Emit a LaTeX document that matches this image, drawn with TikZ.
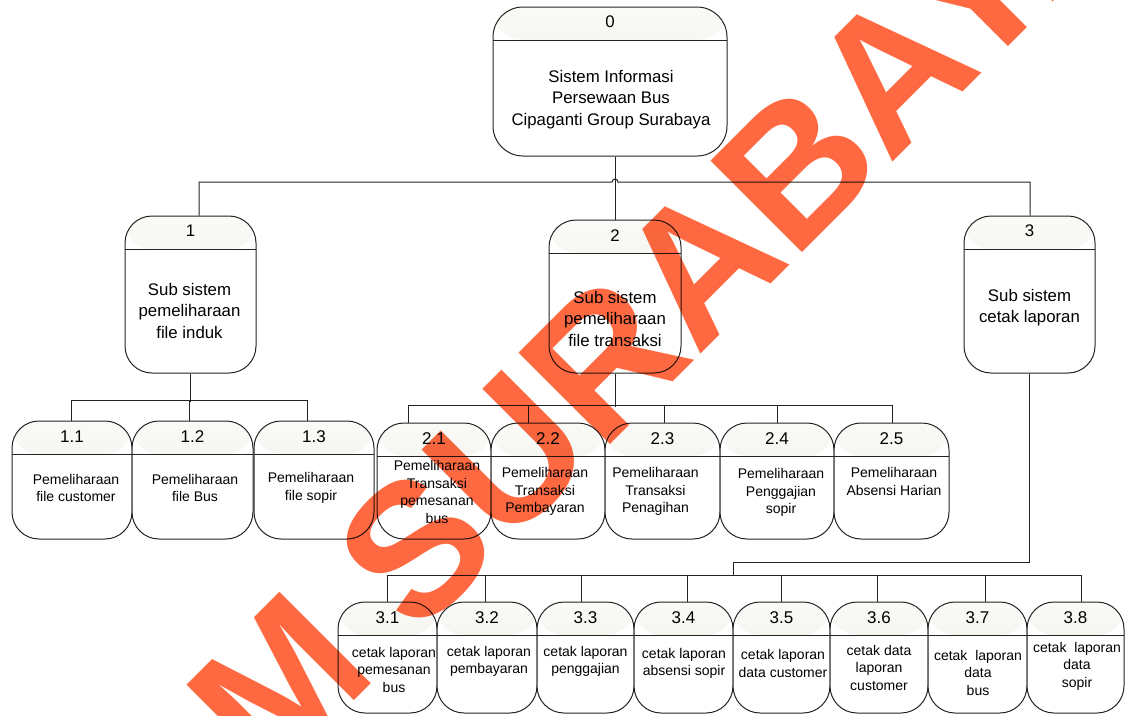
\documentclass[tikz,border=0pt]{standalone}
\usepackage{fontspec}
\setmainfont{Liberation Sans}
\usetikzlibrary{calc}

\definecolor{edge}{RGB}{35,35,35}
\definecolor{hdtop}{RGB}{250,250,247}
\definecolor{hdbot}{RGB}{234,234,226}
\definecolor{wm}{RGB}{255,105,65}

\tikzset{
  proc/.style={draw=edge, line width=1pt, rounded corners=#1, inner sep=0pt, fill=white,
    path picture={
      \shade[top color=hdtop, bottom color=hdbot]
        (path picture bounding box.north west) rectangle ([yshift=-33pt]path picture bounding box.north east);
      \draw[edge, line width=1pt]
        ([yshift=-33pt]path picture bounding box.north west) -- ([yshift=-33pt]path picture bounding box.north east);
    }},
  proc/.default=27pt,
  conn/.style={draw=edge, line width=1pt},
  numbig/.style={inner sep=0pt, font=\fontsize{16.8}{20}\selectfont},
  numsmall/.style={inner sep=0pt, font=\fontsize{17}{20}\selectfont},
  bodybig/.style={inner sep=0pt, align=center, font=\fontsize{16.8}{21.5}\selectfont},
  bodysmall/.style={inner sep=0pt, align=center, font=\fontsize{14}{17.5}\selectfont},
}

\begin{document}
\begin{tikzpicture}[x=1pt, y=-1pt]
\useasboundingbox (0,0) rectangle (1127,715);
\fill[white] (0,0) rectangle (1127,715);

% ---------- top level ----------
\node[proc=30pt, minimum width=234pt, minimum height=149pt] (n0) at (610,81.5) {};
\node[numbig] (n0-num) at ($(n0.north)+(0,15)$) {0};
\node[bodybig] (n0-txt) at ($(n0.north)+(1,93)$) {Sistem Informasi\\Persewaan Bus\\Cipaganti Group Surabaya};

% ---------- second level ----------
\node[proc, minimum width=131pt, minimum height=157pt] (n1) at (190.5,294.5) {};
\node[numbig] (n1-num) at ($(n1.north)+(0,15)$) {1};
\node[bodybig] (n1-txt) at ($(n1.north)+(-1,95)$) {Sub sistem\\pemeliharaan\\file induk};

\node[proc, minimum width=132pt, minimum height=153pt] (n2) at (615,296.5) {};
\node[numbig] (n2-num) at ($(n2.north)+(0,16)$) {2};
\node[bodybig] (n2-txt) at ($(n2.north)+(0,99)$) {Sub sistem\\pemeliharaan\\file transaksi};

\node[proc, minimum width=131pt, minimum height=157pt] (n3) at (1029.5,294.5) {};
\node[numbig] (n3-num) at ($(n3.north)+(0,15)$) {3};
\node[bodybig] (n3-txt) at ($(n3.north)+(0,92)$) {Sub sistem\\cetak laporan};

% ---------- processes of subsystem 1 ----------
\node[proc, minimum width=120pt, minimum height=118pt] (n11) at (72,480) {};
\node[numsmall] (n11-num) at ($(n11.north)+(0,16)$) {1.1};
\node[bodysmall] (n11-txt) at ($(n11.north)+(4,67.5)$) {Pemeliharaan\\file customer};

\node[proc, minimum width=121pt, minimum height=118pt] (n12) at (192.5,480) {};
\node[numsmall] (n12-num) at ($(n12.north)+(0,16)$) {1.2};
\node[bodysmall] (n12-txt) at ($(n12.north)+(2.5,67.5)$) {Pemeliharaan\\file Bus};

\node[proc, minimum width=120pt, minimum height=118pt] (n13) at (314,480) {};
\node[numsmall] (n13-num) at ($(n13.north)+(0,16)$) {1.3};
\node[bodysmall] (n13-txt) at ($(n13.north)+(-3,67.5)$) {Pemeliharaan\\file sopir};

% ---------- processes of subsystem 2 ----------
\node[proc, minimum width=114pt, minimum height=116pt] (n21) at (434,481) {};
\node[numsmall] (n21-num) at ($(n21.north)+(0,16)$) {2.1};
\node[bodysmall] (n21-txt) at ($(n21.north)+(3,69.5)$) {Pemeliharaan\\Transaksi\\pemesanan\\bus};

\node[proc, minimum width=114pt, minimum height=116pt] (n22) at (548,481) {};
\node[numsmall] (n22-num) at ($(n22.north)+(0,16)$) {2.2};
\node[bodysmall] (n22-txt) at ($(n22.north)+(-3,69)$) {Pemeliharaan\\Transaksi\\Pembayaran};

\node[proc, minimum width=115pt, minimum height=116pt] (n23) at (662.5,481) {};
\node[numsmall] (n23-num) at ($(n23.north)+(0,16)$) {2.3};
\node[bodysmall] (n23-txt) at ($(n23.north)+(-7,69)$) {Pemeliharaan\\Transaksi\\Penagihan};

\node[proc, minimum width=114pt, minimum height=116pt] (n24) at (777,481) {};
\node[numsmall] (n24-num) at ($(n24.north)+(0,16)$) {2.4};
\node[bodysmall] (n24-txt) at ($(n24.north)+(4,70)$) {Pemeliharaan\\Penggajian\\sopir};

\node[proc, minimum width=115pt, minimum height=116pt] (n25) at (891.5,481) {};
\node[numsmall] (n25-num) at ($(n25.north)+(0,16)$) {2.5};
\node[bodysmall] (n25-txt) at ($(n25.north)+(2.5,59)$) {Pemeliharaan\\Absensi Harian};

% ---------- processes of subsystem 3 ----------
\node[proc, minimum width=99pt, minimum height=111pt] (n31) at (387.5,657.5) {};
\node[numsmall] (n31-num) at ($(n31.north)+(0,16)$) {3.1};
\node[bodysmall] (n31-txt) at ($(n31.north)+(6.5,68)$) {cetak laporan\\pemesanan\\bus};

\node[proc, minimum width=100pt, minimum height=111pt] (n32) at (487,657.5) {};
\node[numsmall] (n32-num) at ($(n32.north)+(0,16)$) {3.2};
\node[bodysmall] (n32-txt) at ($(n32.north)+(2,60)$) {cetak laporan\\pembayaran};

\node[proc, minimum width=97pt, minimum height=111pt] (n33) at (585.5,657.5) {};
\node[numsmall] (n33-num) at ($(n33.north)+(0,16)$) {3.3};
\node[bodysmall] (n33-txt) at ($(n33.north)+(0,60)$) {cetak laporan\\penggajian};

\node[proc, minimum width=99pt, minimum height=111pt] (n34) at (683.5,657.5) {};
\node[numsmall] (n34-num) at ($(n34.north)+(0,16)$) {3.4};
\node[bodysmall] (n34-txt) at ($(n34.north)+(0.5,62)$) {cetak laporan\\absensi sopir};

\node[proc, minimum width=97pt, minimum height=111pt] (n35) at (781.5,657.5) {};
\node[numsmall] (n35-num) at ($(n35.north)+(0,16)$) {3.5};
\node[bodysmall] (n35-txt) at ($(n35.north)+(1.5,62)$) {cetak laporan\\data customer};

\node[proc, minimum width=98pt, minimum height=111pt] (n36) at (879,657.5) {};
\node[numsmall] (n36-num) at ($(n36.north)+(0,16)$) {3.6};
\node[bodysmall] (n36-txt) at ($(n36.north)+(0,66)$) {cetak data\\laporan\\customer};

\node[proc, minimum width=99pt, minimum height=111pt] (n37) at (977.5,657.5) {};
\node[numsmall] (n37-num) at ($(n37.north)+(0,16)$) {3.7};
\node[bodysmall] (n37-txt) at ($(n37.north)+(0.5,71)$) {cetak\ \ laporan\\data\\bus};

\node[proc, minimum width=97pt, minimum height=111pt] (n38) at (1075.5,657.5) {};
\node[numsmall] (n38-num) at ($(n38.north)+(0,16)$) {3.8};
\node[bodysmall] (n38-txt) at ($(n38.north)+(1.5,64.5)$) {cetak\ \ laporan\\data\\sopir};

% ---------- connectors ----------
\coordinate (busL) at (199,182);
\coordinate (busR) at (1030,182);
\draw[conn] (busL |- n1.north) -- (busL) -- (612,182)
  arc[start angle=180, end angle=0, radius=3pt] -- (busR) -- (busR |- n3.north);
\draw[conn] (n2.north |- n0.south) -- (n2.north);

% subsystem 1
\draw[conn] (n1.south) -- ++(0,28);
\draw[conn] ([xshift=-1pt]n11.north) -- ++(0,-20) -| ([xshift=-7pt]n13.north);
\draw[conn] ([xshift=-3pt]n12.north) -- ++(0,-20);

% subsystem 2
\draw[conn] (n2.south) -- ++(0,33);
\draw[conn] ([xshift=-26pt]n21.north) -- ++(0,-17) -| ([xshift=0.5pt]n25.north);
\draw[conn] ([xshift=-20pt]n22.north) -- ++(0,-17);
\draw[conn] ([xshift=1.5pt]n23.north) -- ++(0,-17);
\draw[conn] (n24.north) -- ++(0,-17);

% subsystem 3
\coordinate (j3) at (733,576);
\coordinate (j3up) at (733,562);
\draw[conn] (n3.south) |- (j3up) -- (j3);
\draw[conn] (n31.north) -- ++(0,-26) -| ([xshift=5.5pt]n38.north);
\draw[conn] ([xshift=-2pt]n32.north) -- ++(0,-26);
\draw[conn] ([xshift=-4.5pt]n33.north) -- ++(0,-26);
\draw[conn] ([xshift=3.5pt]n34.north) -- ++(0,-26);
\draw[conn] (n35.north) -- ++(0,-26);
\draw[conn] ([xshift=-2pt]n36.north) -- ++(0,-26);
\draw[conn] ([xshift=7.5pt]n37.north) -- ++(0,-26);

% ---------- watermark ----------
\begin{scope}[blend mode=multiply]
  \clip (0,0) rectangle (1127,715);
  \node[anchor=base west, inner sep=0pt, rotate=45, text=wm,
        font=\fontsize{188}{188}\bfseries\selectfont] (wmark) at (269,786) {M SURABAYA};
\end{scope}
\end{tikzpicture}
\end{document}
